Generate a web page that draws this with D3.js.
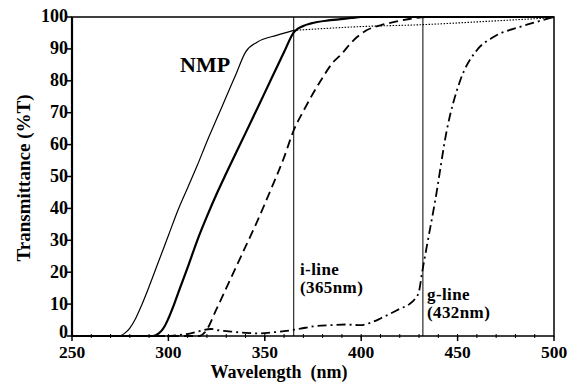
<!DOCTYPE html>
<html>
<head>
<meta charset="utf-8">
<script src="https://cdn.jsdelivr.net/npm/d3@7"></script>
<style>
  html, body { margin: 0; padding: 0; background: #fff; }
  text { font-family: "Liberation Serif", "Times New Roman", serif; font-weight: bold; fill: #000; }
</style>
</head>
<body>
<div id="chart"></div>
<script>
// NMP solvent (thin line, solid then dotted past the i-line)
const nmpWl = [250, 274, 276, 278, 280, 283, 286, 290, 295, 300, 305, 310, 315, 320, 325, 330, 335, 340, 346, 356.5, 365, 400, 432, 470, 500];
const nmpT  = [0, 0, 0.3, 1.2, 2.5, 5.5, 9.5, 15.5, 23.5, 31.5, 39.5, 46.5, 53.5, 61, 68, 75, 82, 89, 92.1, 94.3, 95.8, 97, 97.6, 98.8, 99.8];
const nmpDotFrom = 365;

// thick solid film
const solidWl = [250, 292, 295, 298, 300, 303, 306, 310, 315, 320, 325, 330, 340, 350, 360, 365, 370, 374, 384, 395, 400, 500];
const solidT  = [0, 0, 0.8, 3, 5.5, 10, 15, 21.5, 30, 37.5, 44.5, 51, 63.6, 76.3, 89, 95.2, 97.2, 98, 99, 99.7, 100, 100];

// dashed film
const dashWl = [250, 316, 319, 325, 330, 335, 340, 345, 353, 360, 365, 370, 375, 380, 385, 390, 393, 398, 403, 410, 420, 427, 435, 500];
const dashT  = [0, 0, 1.2, 8.5, 15, 21.5, 28, 34.5, 45.7, 56, 64.5, 70.5, 76, 81, 85.5, 88.5, 90.7, 93.8, 95.9, 97.4, 98.8, 99.6, 100, 100];

// dash-dot film
const ddWl = [250, 300, 305, 311.6, 316, 322, 326, 333.9, 340, 347.8, 355, 360, 368.5, 375, 384, 392, 399.6, 405, 410, 415, 420.3, 425, 428, 430, 431.5, 434, 438.4, 444.4, 451.3, 460, 468.6, 482.4, 490, 500];
const ddT  = [0, 0, 0.3, 0.8, 1.5, 2.2, 1.8, 1.3, 1, 0.8, 1.2, 1.5, 2.3, 3, 3.4, 3.6, 3.4, 4.2, 5.5, 7, 8.6, 10, 11.7, 14, 19.6, 28, 42.5, 64.5, 80, 89.6, 93.7, 96.9, 98.3, 100];

const xTicks = [250, 300, 350, 400, 450, 500];
const yTicks = [0, 10, 20, 30, 40, 50, 60, 70, 80, 90, 100];
const markers = [
  { wl: 365, lines: ['i-line', '(365nm)'] },
  { wl: 432, lines: ['g-line', '(432nm)'] }
];

const W = 575, H = 382;
const m = { top: 17, right: 21, bottom: 46, left: 72 };

const svg = d3.select('#chart').append('svg').attr('width', W).attr('height', H);

const x = d3.scaleLinear().domain([250, 500]).range([m.left, W - m.right]);
const y = d3.scaleLinear().domain([0, 100]).range([H - m.bottom, m.top]);

const zip = (a, b) => a.map((v, i) => [v, b[i]]);
const line = d3.line().x(d => x(d[0])).y(d => y(d[1])).curve(d3.curveMonotoneX);

// frame
svg.append('rect')
  .attr('x', x(250)).attr('y', y(100))
  .attr('width', x(500) - x(250)).attr('height', y(0) - y(100))
  .attr('fill', 'none').attr('stroke', '#000').attr('stroke-width', 1.5);
svg.append('line')
  .attr('x1', x(250)).attr('x2', x(250)).attr('y1', y(100)).attr('y2', y(0) + 1)
  .attr('stroke', '#000').attr('stroke-width', 2.2);

// x ticks: minor every 10 nm across the axis, major down
d3.range(260, 500, 10).forEach(v => {
  svg.append('line').attr('x1', x(v)).attr('x2', x(v))
    .attr('y1', y(0) - 2).attr('y2', y(0) + 2).attr('stroke', '#000').attr('stroke-width', 1);
});
xTicks.forEach(v => {
  svg.append('line').attr('x1', x(v)).attr('x2', x(v))
    .attr('y1', y(0)).attr('y2', y(0) + 5).attr('stroke', '#000').attr('stroke-width', 1.5);
  svg.append('text').attr('x', x(v)).attr('y', 358)
    .attr('text-anchor', 'middle').attr('font-size', 17.5).text(v);
});

// y ticks (the 0 label sits a little higher so it clears the 250 label)
yTicks.forEach(v => {
  svg.append('line').attr('x1', x(250) - 5).attr('x2', x(250))
    .attr('y1', y(v)).attr('y2', y(v)).attr('stroke', '#000').attr('stroke-width', 1.5);
  svg.append('text').attr('x', 68).attr('y', y(v)).attr('dy', v === 0 ? '0.13em' : '0.3em')
    .attr('text-anchor', 'end').attr('font-size', 18).text(v);
});

// axis titles
svg.append('text').attr('x', 279).attr('y', 378).attr('text-anchor', 'middle')
  .attr('font-size', 18).attr('xml:space', 'preserve').text('Wavelength  (nm)');
svg.append('text').attr('transform', 'translate(30,178) rotate(-90)')
  .attr('text-anchor', 'middle').attr('font-size', 19).text('Transmittance (%T)');

// exposure lines
markers.forEach(mk => {
  svg.append('line').attr('x1', x(mk.wl)).attr('x2', x(mk.wl))
    .attr('y1', y(100)).attr('y2', y(0)).attr('stroke', '#000').attr('stroke-width', 1);
});
const lbl = svg.append('g').attr('font-size', 17).attr('letter-spacing', 0.4);
lbl.append('text').attr('x', 300).attr('y', 275).text(markers[0].lines[0]);
lbl.append('text').attr('x', 300).attr('y', 293).text(markers[0].lines[1]);
lbl.append('text').attr('x', 427).attr('y', 300).text(markers[1].lines[0]);
lbl.append('text').attr('x', 427).attr('y', 318).text(markers[1].lines[1]);

// curves
const nmp = zip(nmpWl, nmpT);
svg.append('path').datum(nmp.filter(d => d[0] <= nmpDotFrom))
  .attr('d', line).attr('fill', 'none').attr('stroke', '#000').attr('stroke-width', 1.2);
svg.append('path').datum(nmp.filter(d => d[0] >= nmpDotFrom))
  .attr('d', line).attr('fill', 'none').attr('stroke', '#000').attr('stroke-width', 1.1)
  .attr('stroke-dasharray', '1.5,1.5');

svg.append('path').datum(zip(solidWl, solidT))
  .attr('d', line).attr('fill', 'none').attr('stroke', '#000').attr('stroke-width', 2.2);

svg.append('path').datum(zip(dashWl, dashT))
  .attr('d', line).attr('fill', 'none').attr('stroke', '#000').attr('stroke-width', 1.8)
  .attr('stroke-dasharray', '9,5');

svg.append('path').datum(zip(ddWl, ddT))
  .attr('d', line).attr('fill', 'none').attr('stroke', '#000').attr('stroke-width', 1.8)
  .attr('stroke-dasharray', '9,4,2,4');

svg.append('text').attr('x', 180).attr('y', 72).attr('font-size', 22).text('NMP');
</script>
</body>
</html>
